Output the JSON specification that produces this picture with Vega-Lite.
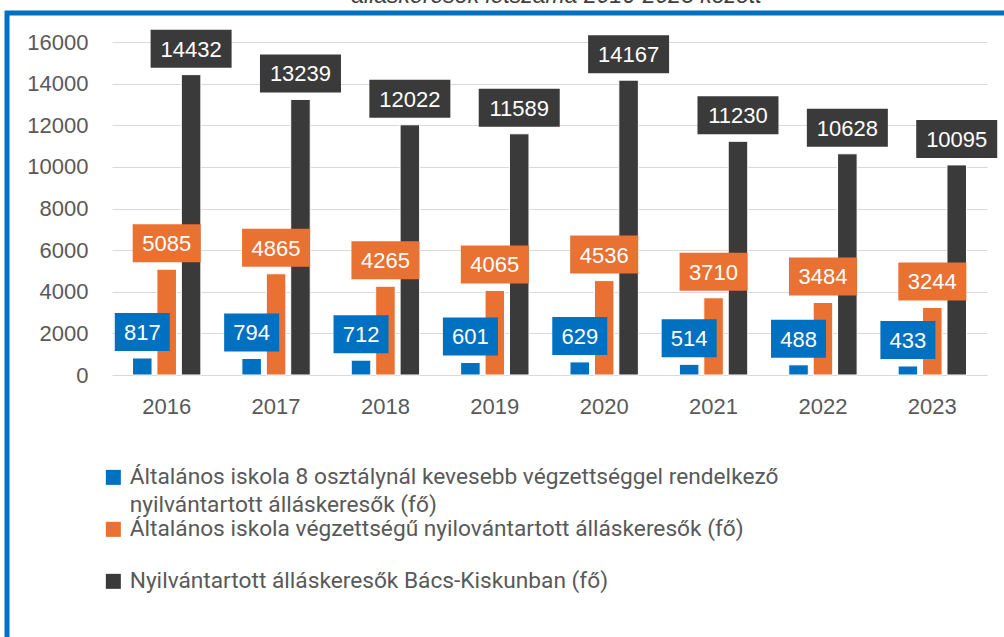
{
  "$schema": "https://vega.github.io/schema/vega-lite/v6.json",
  "autosize": {"type": "none"},
  "padding": {"left": 7, "top": 13, "right": -20, "bottom": -20},
  "width": 1017,
  "height": 644,
  "background": "#ffffff",
  "title": {
    "text": "álláskeresők létszáma 2016-2023 között",
    "anchor": "middle",
    "frame": "group",
    "orient": "top",
    "offset": -13,
    "baseline": "alphabetic",
    "dx": 41,
    "font": "Liberation Sans",
    "fontSize": 23,
    "fontStyle": "italic",
    "fontWeight": "normal",
    "color": "#404040"
  },
  "config": {
    "view": {"stroke": "#0070C0", "strokeWidth": 5},
    "axis": {"labelFont": "Liberation Sans", "labelFontSize": 22, "labelColor": "#595959"},
    "style": {"guide-label": {"lineHeight": 28}}
  },
  "data": {
    "values": [
      {"ev": 2016, "sorozat": "Általános iskola 8 osztálynál kevesebb végzettséggel rendelkező nyilvántartott álláskeresők (fő)", "ertek": 817},
      {"ev": 2016, "sorozat": "Általános iskola végzettségű nyilovántartott álláskeresők (fő)", "ertek": 5085},
      {"ev": 2016, "sorozat": "Nyilvántartott álláskeresők Bács-Kiskunban (fő)", "ertek": 14432},
      {"ev": 2017, "sorozat": "Általános iskola 8 osztálynál kevesebb végzettséggel rendelkező nyilvántartott álláskeresők (fő)", "ertek": 794},
      {"ev": 2017, "sorozat": "Általános iskola végzettségű nyilovántartott álláskeresők (fő)", "ertek": 4865},
      {"ev": 2017, "sorozat": "Nyilvántartott álláskeresők Bács-Kiskunban (fő)", "ertek": 13239},
      {"ev": 2018, "sorozat": "Általános iskola 8 osztálynál kevesebb végzettséggel rendelkező nyilvántartott álláskeresők (fő)", "ertek": 712},
      {"ev": 2018, "sorozat": "Általános iskola végzettségű nyilovántartott álláskeresők (fő)", "ertek": 4265},
      {"ev": 2018, "sorozat": "Nyilvántartott álláskeresők Bács-Kiskunban (fő)", "ertek": 12022},
      {"ev": 2019, "sorozat": "Általános iskola 8 osztálynál kevesebb végzettséggel rendelkező nyilvántartott álláskeresők (fő)", "ertek": 601},
      {"ev": 2019, "sorozat": "Általános iskola végzettségű nyilovántartott álláskeresők (fő)", "ertek": 4065},
      {"ev": 2019, "sorozat": "Nyilvántartott álláskeresők Bács-Kiskunban (fő)", "ertek": 11589},
      {"ev": 2020, "sorozat": "Általános iskola 8 osztálynál kevesebb végzettséggel rendelkező nyilvántartott álláskeresők (fő)", "ertek": 629},
      {"ev": 2020, "sorozat": "Általános iskola végzettségű nyilovántartott álláskeresők (fő)", "ertek": 4536},
      {"ev": 2020, "sorozat": "Nyilvántartott álláskeresők Bács-Kiskunban (fő)", "ertek": 14167},
      {"ev": 2021, "sorozat": "Általános iskola 8 osztálynál kevesebb végzettséggel rendelkező nyilvántartott álláskeresők (fő)", "ertek": 514},
      {"ev": 2021, "sorozat": "Általános iskola végzettségű nyilovántartott álláskeresők (fő)", "ertek": 3710},
      {"ev": 2021, "sorozat": "Nyilvántartott álláskeresők Bács-Kiskunban (fő)", "ertek": 11230},
      {"ev": 2022, "sorozat": "Általános iskola 8 osztálynál kevesebb végzettséggel rendelkező nyilvántartott álláskeresők (fő)", "ertek": 488},
      {"ev": 2022, "sorozat": "Általános iskola végzettségű nyilovántartott álláskeresők (fő)", "ertek": 3484},
      {"ev": 2022, "sorozat": "Nyilvántartott álláskeresők Bács-Kiskunban (fő)", "ertek": 10628},
      {"ev": 2023, "sorozat": "Általános iskola 8 osztálynál kevesebb végzettséggel rendelkező nyilvántartott álláskeresők (fő)", "ertek": 433},
      {"ev": 2023, "sorozat": "Általános iskola végzettségű nyilovántartott álláskeresők (fő)", "ertek": 3244},
      {"ev": 2023, "sorozat": "Nyilvántartott álláskeresők Bács-Kiskunban (fő)", "ertek": 10095}
    ]
  },
  "encoding": {
    "x": {
      "field": "ev",
      "type": "ordinal",
      "scale": {"range": [105, 980], "paddingInner": 0.375, "paddingOuter": 0.1875},
      "axis": {"title": null, "orient": "bottom", "offset": -282, "domain": false, "ticks": false, "tickSize": 0, "labelPadding": 21, "labelAngle": 0}
    },
    "xOffset": {
      "field": "sorozat",
      "type": "nominal",
      "sort": [
        "Általános iskola 8 osztálynál kevesebb végzettséggel rendelkező nyilvántartott álláskeresők (fő)",
        "Általános iskola végzettségű nyilovántartott álláskeresők (fő)",
        "Nyilvántartott álláskeresők Bács-Kiskunban (fő)"
      ],
      "scale": {"paddingInner": 0.2, "paddingOuter": 0}
    },
    "y": {
      "field": "ertek",
      "type": "quantitative",
      "scale": {"domain": [0, 16000], "range": [362, 29], "nice": false},
      "axis": {
        "title": null,
        "offset": -105,
        "values": [0, 2000, 4000, 6000, 8000, 10000, 12000, 14000, 16000],
        "format": "d",
        "domain": false,
        "ticks": false,
        "tickSize": 0,
        "labelPadding": 24,
        "grid": true,
        "gridColor": "#D9D9D9",
        "gridWidth": 1
      }
    }
  },
  "layer": [
    {
      "mark": {"type": "bar", "stroke": "#ffffff", "strokeWidth": 1},
      "encoding": {
        "color": {
          "field": "sorozat",
          "type": "nominal",
          "scale": {
            "domain": [
              "Általános iskola 8 osztálynál kevesebb végzettséggel rendelkező nyilvántartott álláskeresők (fő)",
              "Általános iskola végzettségű nyilovántartott álláskeresők (fő)",
              "Nyilvántartott álláskeresők Bács-Kiskunban (fő)"
            ],
            "range": ["#0070C0", "#E97132", "#3A3A3A"]
          },
          "legend": {
            "orient": "none",
            "legendX": 95,
            "legendY": 453,
            "title": null,
            "symbolType": "square",
            "symbolSize": 225,
            "symbolStrokeWidth": 0,
            "labelFont": "Roboto",
            "labelFontSize": 22.7,
            "labelColor": "#595959",
            "labelLimit": 0,
            "rowPadding": -1,
            "labelOffset": 5,
            "labelBaseline": "middle",
            "labelExpr": "datum.label == 'Általános iskola 8 osztálynál kevesebb végzettséggel rendelkező nyilvántartott álláskeresők (fő)' ? ['Általános iskola 8 osztálynál kevesebb végzettséggel rendelkező', 'nyilvántartott álláskeresők (fő)'] : [datum.label, ' ']"
          }
        }
      }
    },
    {
      "mark": {"type": "point", "filled": true, "size": 4, "opacity": 1, "strokeWidth": 0},
      "encoding": {
        "fill": {
          "field": "sorozat",
          "type": "nominal",
          "scale": {
            "domain": [
              "Általános iskola 8 osztálynál kevesebb végzettséggel rendelkező nyilvántartott álláskeresők (fő)",
              "Általános iskola végzettségű nyilovántartott álláskeresők (fő)",
              "Nyilvántartott álláskeresők Bács-Kiskunban (fő)"
            ],
            "range": ["#0070C0", "#E97132", "#3A3A3A"]
          },
          "legend": null
        },
        "shape": {
          "condition": [
            {"test": "datum.ertek >= 10000", "value": "M-40.5,-45H40.5V-7H-40.5Z"},
            {"test": "datum.ertek >= 1000", "value": "M-34,-45H34V-7H-34Z"}
          ],
          "value": "M-27.5,-45H27.5V-7H-27.5Z"
        }
      }
    },
    {
      "mark": {"type": "text", "dy": -25, "baseline": "middle", "align": "center", "color": "#ffffff", "font": "Liberation Sans", "fontSize": 22},
      "encoding": {
        "text": {"field": "ertek", "type": "quantitative", "format": "d"}
      }
    }
  ]
}
